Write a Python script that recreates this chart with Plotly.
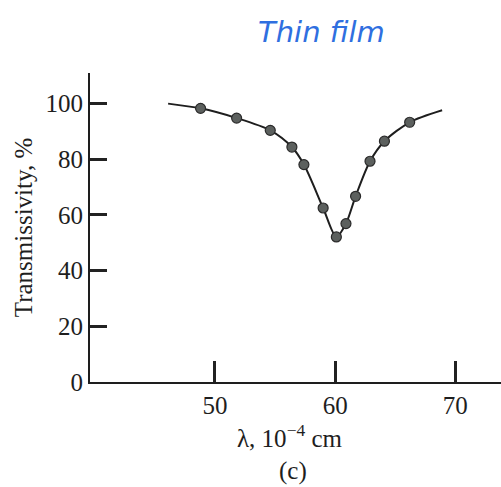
import plotly.graph_objects as go

# Measured transmissivity of the thin film versus wavelength
wavelength = [48.8, 51.8, 54.6, 56.4, 57.4, 59.0, 60.1, 60.9, 61.7, 62.9, 64.1, 66.2]
transmissivity = [98.3, 94.8, 90.4, 84.4, 78.1, 62.5, 52.1, 56.9, 66.7, 79.3, 86.5, 93.3]

# Smooth fitted curve through the measurements
curve_x = [46.1, 48.8, 51.8, 54.6, 56.4, 57.4, 59.0, 60.1, 60.9, 61.7, 62.9, 64.1, 66.2, 68.9]
curve_y = [100.0, 98.3, 94.8, 90.4, 84.4, 78.1, 62.5, 52.1, 56.9, 66.7, 79.3, 86.5, 93.3, 97.6]

x_ticks = [50, 60, 70]
y_ticks = [0, 20, 40, 60, 80, 100]

x_range = [39.6, 73.8]
y_range = [0, 111]

serif = "Liberation Serif"
ink = "#1e1e1e"
fs = 25

fig = go.Figure()
fig.add_trace(go.Scatter(
    x=curve_x, y=curve_y, mode="lines",
    line=dict(color=ink, width=2, shape="spline", smoothing=0.8),
    hoverinfo="skip", showlegend=False,
))
fig.add_trace(go.Scatter(
    x=wavelength, y=transmissivity, mode="markers",
    marker=dict(size=10, color="#5c605e", line=dict(color="#2a2a2a", width=1.2)),
    showlegend=False,
))

fig.update_layout(
    template="none",
    width=501, height=487,
    margin=dict(l=90, r=0, t=73, b=105),
    paper_bgcolor="white", plot_bgcolor="white",
    font=dict(family=serif, size=fs, color=ink),
    xaxis=dict(
        range=x_range, tickvals=x_ticks, ticks="inside", ticklen=21,
        tickwidth=3, tickcolor="#222222", showline=True, linecolor=ink, linewidth=2,
        showgrid=False, zeroline=False, tickfont=dict(family=serif, size=fs),
    ),
    yaxis=dict(
        range=y_range, tickvals=y_ticks, ticks="inside", ticklen=17,
        tickwidth=3, tickcolor="#222222", showline=True, linecolor=ink, linewidth=2,
        showgrid=False, zeroline=False, tickfont=dict(family=serif, size=fs),
        title=dict(text="Transmissivity, %", font=dict(family=serif, size=fs), standoff=6),
    ),
    annotations=[
        dict(text="λ, 10<sup>−4</sup> cm", xref="paper", yref="paper",
             x=(290 - 90) / 411, y=(382 - 436) / 309, showarrow=False,
             font=dict(family=serif, size=fs, color=ink), xanchor="center", yanchor="middle"),
        dict(text="(c)", xref="paper", yref="paper",
             x=(293 - 90) / 411, y=(382 - 471) / 309, showarrow=False,
             font=dict(family=serif, size=fs, color=ink), xanchor="center", yanchor="middle"),
        dict(text="Thin film", xref="paper", yref="paper",
             x=(321 - 90) / 411, y=(382 - 32) / 309, showarrow=False,
             font=dict(family="DejaVu Sans", size=29, color="#2f6fe0", style="italic"),
             xanchor="center", yanchor="middle"),
    ],
)

fig.write_html("out.html")
